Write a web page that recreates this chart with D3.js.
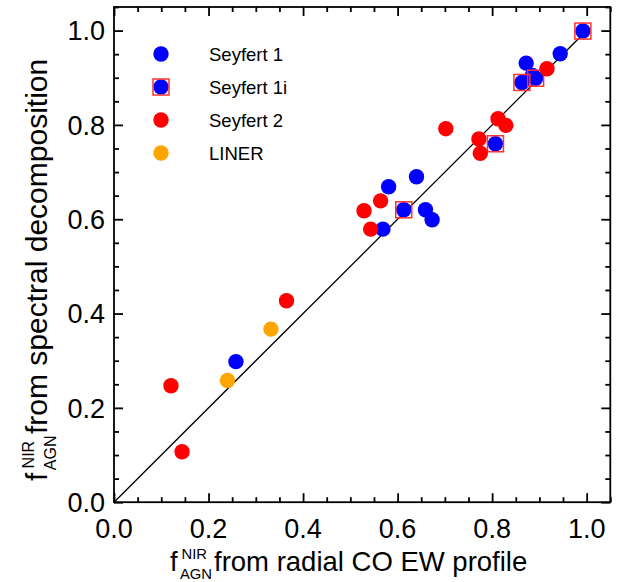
<!DOCTYPE html>
<html><head><meta charset="utf-8">
<script src="https://cdn.jsdelivr.net/npm/d3@7"></script>
<style>body{margin:0;background:#fff}svg{display:block}text{font-family:"Liberation Sans",Arial,Helvetica,sans-serif}</style>
</head><body><svg id="c" width="632" height="582"></svg>
<script>
const seyfert1 = [[0.944,0.951],[0.872,0.931],[0.885,0.905],[0.640,0.690],[0.581,0.669],[0.659,0.620],[0.673,0.599],[0.569,0.579],[0.258,0.298]];
const seyfert1i = [[0.992,0.999],[0.892,0.899],[0.863,0.890],[0.807,0.760],[0.613,0.620]];
const seyfert2 = [[0.916,0.919],[0.8125,0.813],[0.829,0.799],[0.702,0.792],[0.772,0.770],[0.775,0.740],[0.564,0.639],[0.529,0.618],[0.543,0.579],[0.365,0.427],[0.1205,0.247],[0.144,0.107]];
const liner = [[0.332,0.367],[0.240,0.258]];
const legendLabels = ["Seyfert 1","Seyfert 1i","Seyfert 2","LINER"];
const majorTicks = [0,0.2,0.4,0.6,0.8,1.0];
const tickLabels = ["0.0","0.2","0.4","0.6","0.8","1.0"];
const minorTicks = d3.range(0,1.0501,0.05).filter(v=>Math.abs(v*5-Math.round(v*5))>1e-6);

const svg = d3.select("#c");
const L=114, R=610.3, T=7, B=502.2;
const x = d3.scaleLinear().domain([0,1.05]).range([L,R]);
const y = d3.scaleLinear().domain([0,1.05]).range([B,T]);
const BLUE="#0000ff", RED="#ff0000", ORANGE="#ffa500";
const r=7.7, sq=8;

// identity line
svg.append("line").attr("x1",x(0)).attr("y1",y(0)).attr("x2",x(1)).attr("y2",y(1))
  .attr("stroke","#000").attr("stroke-width",1.3);

function circles(data,color){
  svg.append("g").selectAll("circle").data(data).join("circle")
    .attr("cx",d=>x(d[0])).attr("cy",d=>y(d[1])).attr("r",r).attr("fill",color);
}
circles(seyfert1,BLUE);
const g1i = svg.append("g");
g1i.selectAll("circle").data(seyfert1i).join("circle")
  .attr("cx",d=>x(d[0])).attr("cy",d=>y(d[1])).attr("r",r).attr("fill",BLUE);
g1i.selectAll("rect").data(seyfert1i).join("rect")
  .attr("x",d=>x(d[0])-sq).attr("y",d=>y(d[1])-sq).attr("width",2*sq).attr("height",2*sq)
  .attr("fill","none").attr("stroke","#ff3030").attr("stroke-width",1.5);
circles(seyfert2,RED);
circles(liner,ORANGE);

// frame
svg.append("rect").attr("x",L).attr("y",T).attr("width",R-L).attr("height",B-T)
  .attr("fill","none").attr("stroke","#000").attr("stroke-width",1.8);

// axes with inward ticks on all sides
function axisTicks(axisGen, transform, scaleTicks, size){
  svg.append("g").attr("transform",transform)
    .call(axisGen.tickValues(scaleTicks).tickSize(size).tickFormat(""))
    .call(g=>g.select(".domain").remove())
    .call(g=>g.selectAll("line").attr("stroke","#000").attr("stroke-width",1.8));
}
axisTicks(d3.axisTop(x),`translate(0,${B})`,majorTicks,9);
axisTicks(d3.axisTop(x),`translate(0,${B})`,minorTicks,5);
axisTicks(d3.axisBottom(x),`translate(0,${T})`,majorTicks,9);
axisTicks(d3.axisBottom(x),`translate(0,${T})`,minorTicks,5);
axisTicks(d3.axisRight(y),`translate(${L},0)`,majorTicks,9);
axisTicks(d3.axisRight(y),`translate(${L},0)`,minorTicks,5);
axisTicks(d3.axisLeft(y),`translate(${R},0)`,majorTicks,9);
axisTicks(d3.axisLeft(y),`translate(${R},0)`,minorTicks,5);

// tick labels
const fs=27;
svg.append("g").selectAll("text").data(majorTicks).join("text")
  .attr("x",d=>x(d)).attr("y",538).attr("text-anchor","middle")
  .attr("font-size",fs).text((d,i)=>tickLabels[i]);
svg.append("g").selectAll("text").data(majorTicks).join("text")
  .attr("x",105).attr("y",d=>y(d)+9.8).attr("text-anchor","end")
  .attr("font-size",fs).text((d,i)=>tickLabels[i]);

// axis titles
function title(g, rest, size, sub, restX){
  g.append("text").attr("x",0).attr("y",0).attr("font-size",size).text("f");
  g.append("text").attr("x",size*0.42).attr("y",-size*0.42).attr("font-size",sub).text("NIR");
  g.append("text").attr("x",size*0.36).attr("y",size*0.3).attr("font-size",sub).text("AGN");
  g.append("text").attr("x",restX).attr("y",0).attr("font-size",size).text(rest);
}
title(svg.append("g").attr("transform","translate(170,571)"),"from radial CO EW profile",27.5,14.8,44);
title(svg.append("g").attr("transform","translate(47,481) rotate(-90)"),"from spectral decomposition",30,16,47);

// legend
const legColors=[BLUE,BLUE,RED,ORANGE];
const legY=[54,87,120,153];
const lg=svg.append("g");
legendLabels.forEach((lab,i)=>{
  lg.append("circle").attr("cx",161).attr("cy",legY[i]).attr("r",r).attr("fill",legColors[i]);
  if(i===1) lg.append("rect").attr("x",161-sq).attr("y",legY[i]-sq).attr("width",2*sq).attr("height",2*sq)
     .attr("fill","none").attr("stroke","#ff3030").attr("stroke-width",1.5);
  lg.append("text").attr("x",209).attr("y",legY[i]+6.5).attr("font-size",18.5).text(lab);
});
</script></body></html>
